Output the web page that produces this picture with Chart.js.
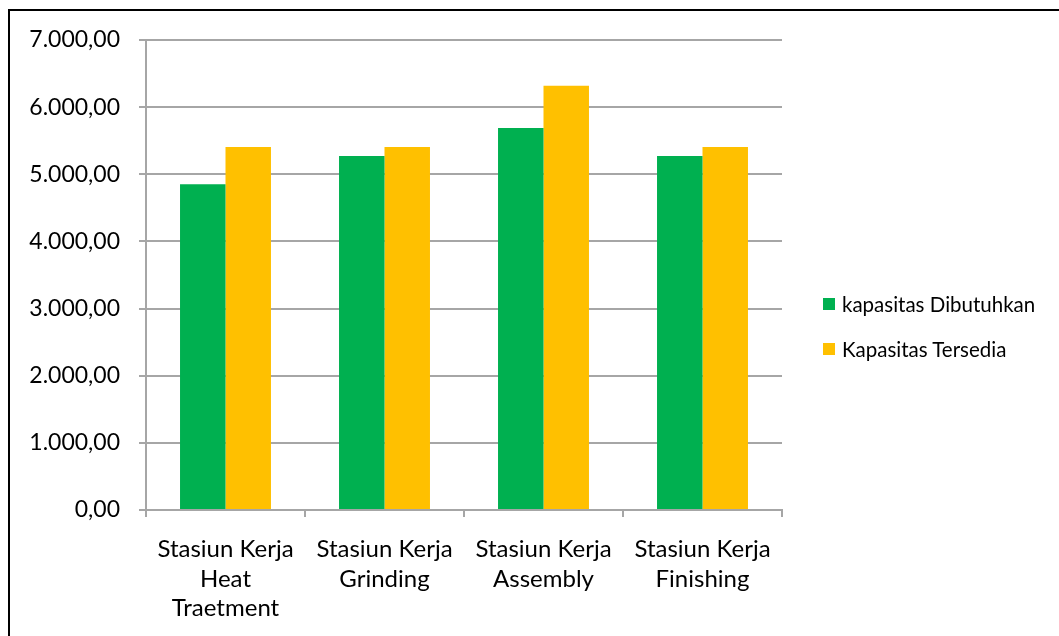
<!DOCTYPE html>
<html>
<head>
<meta charset="utf-8">
<script src="https://cdn.jsdelivr.net/npm/chart.js@4"></script>
<style>
    html, body { margin: 0; padding: 0; background: #fff; }
    #wrap { position: relative; width: 1059px; height: 636px; overflow: hidden; }
    #frame {
        position: absolute; left: 8px; top: 9px; width: 1100px; height: 700px;
        border-left: 2px solid #000; border-top: 2px solid #000;
    }
    #grafik { position: absolute; left: 0; top: 0; }
    #legende { position: absolute; left: 823px; top: 289px; font-family: Lato, sans-serif; font-size: 20.5px; color: #000; }
    .item { display: flex; align-items: center; height: 30px; margin-bottom: 15px; }
    .kotak { width: 12px; height: 12px; margin-right: 7px; }
</style>
</head>
<body>
<div id="wrap">
    <div id="frame"></div>
    <canvas id="grafik" width="1059" height="636"></canvas>
    <div id="legende"></div>
</div>
<script>
// Data kapasitas per stasiun kerja
const stasiun = [
    ['Stasiun Kerja', 'Heat', 'Traetment'],
    ['Stasiun Kerja', 'Grinding'],
    ['Stasiun Kerja', 'Assembly'],
    ['Stasiun Kerja', 'Finishing']
];
const kapasitasDibutuhkan = [4850, 5272, 5691, 5272];
const kapasitasTersedia = [5407, 5407, 6318, 5407];
const sumbuY = { min: 0, max: 7000, step: 1000 };

// Format angka gaya Indonesia: 7.000,00
function formatAngka(v) {
    const parts = Number(v).toFixed(2).split('.');
    parts[0] = parts[0].replace(/\B(?=(\d{3})+(?!\d))/g, '.');
    return parts.join(',');
}

const warnaGrid = '#a6a6a6';

const ctx = document.getElementById('grafik').getContext('2d');
const chart = new Chart(ctx, {
    type: 'bar',
    data: {
        labels: stasiun,
        datasets: [
            {
                label: 'kapasitas Dibutuhkan',
                data: kapasitasDibutuhkan,
                backgroundColor: '#00B050'
            },
            {
                label: 'Kapasitas Tersedia',
                data: kapasitasTersedia,
                backgroundColor: '#FFC000'
            }
        ]
    },
    options: {
        responsive: false,
        animation: false,
        categoryPercentage: 0.572,
        barPercentage: 1,
        layout: { padding: { left: 0, top: 40, right: 277, bottom: 0 } },
        plugins: {
            legend: { display: false },
            tooltip: { enabled: false }
        },
        scales: {
            x: {
                grid: {
                    offset: true,
                    drawOnChartArea: false,
                    drawTicks: true,
                    tickLength: 7,
                    color: warnaGrid,
                    lineWidth: 2
                },
                border: { color: warnaGrid, width: 2 },
                ticks: {
                    color: '#000',
                    padding: 18,
                    maxRotation: 0,
                    autoSkip: false,
                    font: { family: 'Lato', size: 24, lineHeight: 1.22 }
                },
                afterFit: (scale) => { scale.height = 126; }
            },
            y: {
                min: sumbuY.min,
                max: sumbuY.max,
                grid: {
                    color: warnaGrid,
                    lineWidth: 2,
                    drawTicks: true,
                    tickLength: 7
                },
                border: { color: warnaGrid, width: 2 },
                ticks: {
                    stepSize: sumbuY.step,
                    color: '#000',
                    padding: 19,
                    font: { family: 'Lato', size: 23 },
                    callback: (v) => formatAngka(v)
                },
                afterFit: (scale) => { scale.width = 146; }
            }
        }
    }
});

// Legenda HTML di kanan
const legende = document.getElementById('legende');
chart.data.datasets.forEach((ds) => {
    const item = document.createElement('div');
    item.className = 'item';
    item.innerHTML = '<span class="kotak" style="background:' + ds.backgroundColor + '"></span><span>' + ds.label + '</span>';
    legende.appendChild(item);
});
</script>
</body>
</html>
